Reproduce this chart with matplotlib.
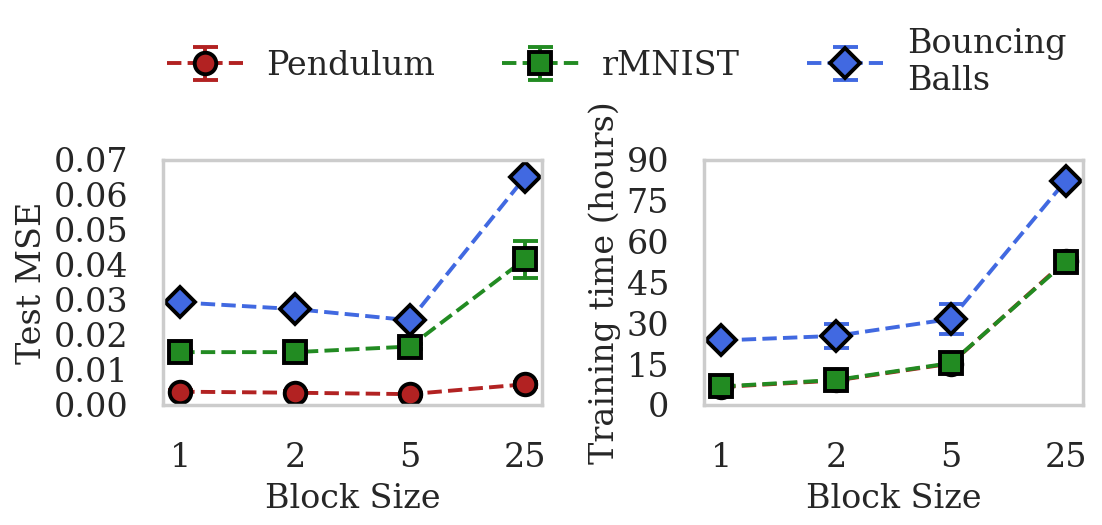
import numpy as np
import matplotlib
matplotlib.use("Agg")
import matplotlib.pyplot as plt

block_sizes = ["1", "2", "5", "25"]
datasets = ["Pendulum", "rMNIST", "Bouncing\nBalls"]
colors = ["firebrick", "forestgreen", "royalblue"]
markers = ["o", "s", "D"]

# test MSE (mean, std)
mse_pendulum = [0.0038, 0.0035, 0.0031, 0.0059]
mse_pendulum_err = [0.0004, 0.0004, 0.0004, 0.0007]
mse_rmnist = [0.0151, 0.0151, 0.0167, 0.0416]
mse_rmnist_err = [0.0005, 0.0005, 0.0007, 0.0052]
mse_balls = [0.0293, 0.0274, 0.0242, 0.0650]
mse_balls_err = [0.0003, 0.0003, 0.0004, 0.0005]

# training time in hours (mean, std)
time_pendulum = [6.6, 9.0, 15.2, 53.0]
time_pendulum_err = [0.5, 0.6, 0.8, 1.0]
time_rmnist = [6.8, 9.2, 15.4, 52.6]
time_rmnist_err = [0.5, 0.6, 0.8, 1.0]
time_balls = [23.7, 25.4, 31.6, 82.4]
time_balls_err = [1.0, 4.3, 5.4, 1.0]

plt.rcParams['font.family'] = ['DejaVu Serif']
plt.rcParams['font.size'] = 24
plt.rcParams['text.color'] = '.15'
plt.rcParams['axes.labelcolor'] = '.15'
plt.rcParams['xtick.color'] = '.15'
plt.rcParams['ytick.color'] = '.15'

fig = plt.figure(figsize=(11.02, 5.25), dpi=100)
ax1 = fig.add_axes([0.1479, 0.2286, 0.344, 0.4667])
ax2 = fig.add_axes([0.6388, 0.2286, 0.344, 0.4667])

x = np.arange(len(block_sizes))

mse = [(mse_pendulum, mse_pendulum_err), (mse_rmnist, mse_rmnist_err), (mse_balls, mse_balls_err)]
times = [(time_pendulum, time_pendulum_err), (time_rmnist, time_rmnist_err), (time_balls, time_balls_err)]

handles = []
for ax, series in [(ax1, mse), (ax2, times)]:
    for i, (y, err) in enumerate(series):
        h = ax.errorbar(x, y, yerr=err, color=colors[i], linestyle='--', linewidth=2.8,
                        marker=markers[i], markersize=15.5, markerfacecolor=colors[i],
                        markeredgecolor='black', markeredgewidth=2.8,
                        capsize=9, capthick=2.8, elinewidth=2.8, label=datasets[i])
        if ax is ax1:
            handles.append(h)

for ax in [ax1, ax2]:
    ax.set_xticks(x)
    ax.set_xticklabels(block_sizes)
    ax.set_xlabel("Block Size", labelpad=6)
    ax.set_xlim(-0.15, 3.15)
    ax.tick_params(length=0, labelsize=24)
    ax.tick_params(axis='x', pad=27)
    ax.tick_params(axis='y', pad=25)
    for s in ax.spines.values():
        s.set_color('#cccccc')
        s.set_linewidth(2.5)

ax1.set_ylim(0, 0.07)
ax1.set_yticks(np.arange(0, 0.071, 0.01))
ax1.set_yticklabels(["%.2f" % v for v in np.arange(0, 0.071, 0.01)])
ax1.set_ylabel("Test MSE")

ax2.set_ylim(0, 90)
ax2.set_yticks(np.arange(0, 91, 15))
ax2.set_ylabel("Training time (hours)")

fig.legend(handles=handles, loc='center', bbox_to_anchor=(0.5594, 0.881), ncol=3,
           frameon=False, fontsize=24, handlelength=2.3, handletextpad=0.7,
           columnspacing=2.0)

fig.savefig("out.png", dpi=100)
